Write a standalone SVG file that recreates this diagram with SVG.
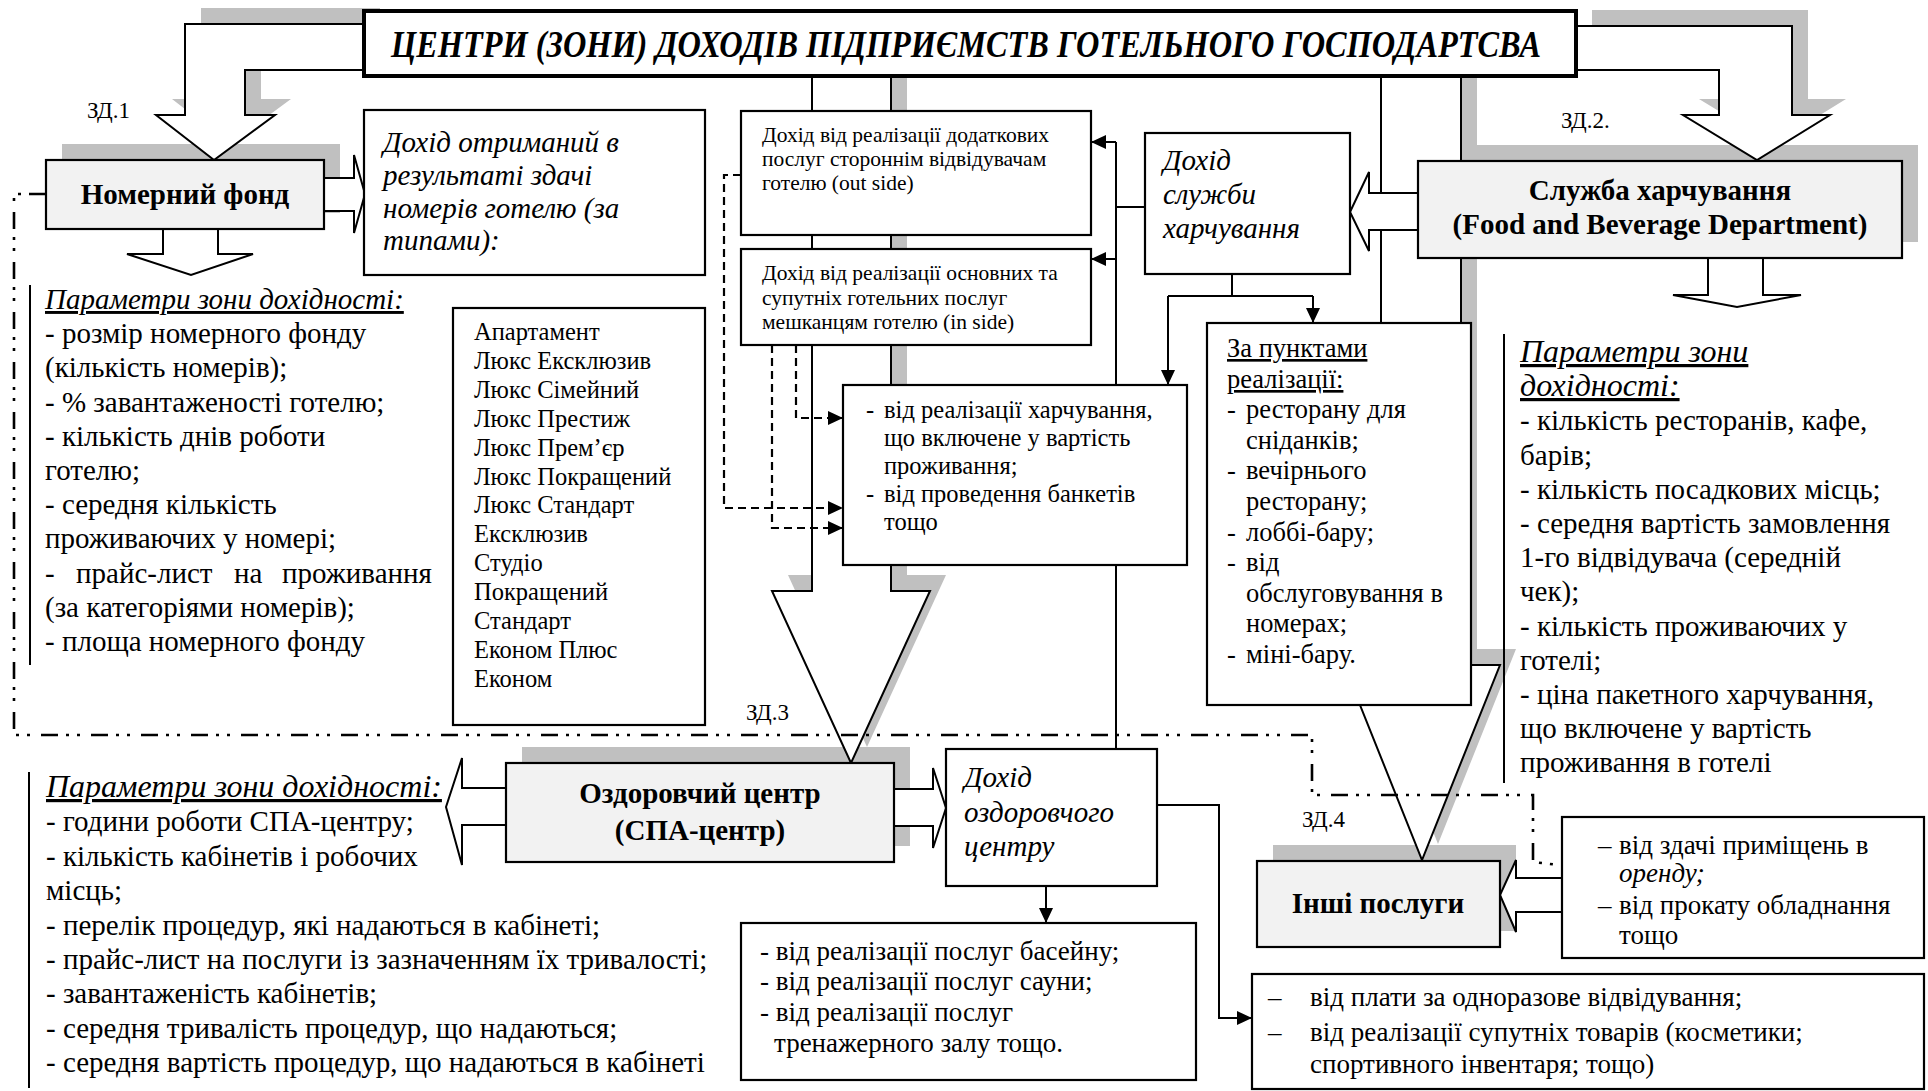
<svg xmlns="http://www.w3.org/2000/svg" xmlns:xlink="http://www.w3.org/1999/xlink" width="1928" height="1091" viewBox="0 0 1928 1091" font-family="Liberation Serif, Times New Roman, serif">
<style>
.bx{fill:#fff;stroke:#000;stroke-width:2.2}
.gb{fill:#f2f2f2;stroke:#000;stroke-width:2.2}
.sh{fill:#c0c0c0;stroke:none}
.ar{fill:#fff;stroke:#000;stroke-width:2;stroke-linejoin:miter}
.ln{fill:none;stroke:#000;stroke-width:2}
.ds{fill:none;stroke:#000;stroke-width:2.2;stroke-dasharray:8 5}
.dd{fill:none;stroke:#000;stroke-width:2.6;stroke-dasharray:17 8 3 8 3 11}
.s21{font-size:21.5px}.s23{font-size:23px}.s24{font-size:24.5px}.s26{font-size:26.5px}.s27{font-size:27px}.s29{font-size:29px}.s32{font-size:32px}
.i{font-style:italic}.b{font-weight:bold}.u{text-decoration:underline}
.c{text-anchor:middle}
</style>
<defs>
<marker id="ah" markerUnits="userSpaceOnUse" markerWidth="16" markerHeight="14" refX="15" refY="7" orient="auto"><path d="M0,0 L15,7 L0,14 z" fill="#000"/></marker>
<polygon id="p1" points="364,24 185,24 185,115 156,115 214,160 275,115 245,115 245,70 364,70"/>
<polygon id="p2" points="1576,26 1792,26 1792,115 1830,115 1757,160 1683,115 1719,115 1719,70 1576,70"/>
<polygon id="p3" points="812,76 812,591 772,591 851,763 930,591 891,591 891,76"/>
<polygon id="p4" points="1381,76 1381,665 1344,665 1422,860 1500,665 1461,665 1461,76"/>
</defs>
<rect width="1928" height="1091" fill="#fff"/>

<g id="shadows">
<use xlink:href="#p1" class="sh" transform="translate(16,-16)"/>
<use xlink:href="#p2" class="sh" transform="translate(16,-16)"/>
<use xlink:href="#p3" class="sh" transform="translate(16,-16)"/>
<use xlink:href="#p4" class="sh" transform="translate(16,-16)"/>
<rect class="sh" x="62" y="144" width="278" height="69"/>
<rect class="sh" x="1434" y="145" width="484" height="97"/>
<rect class="sh" x="522" y="747" width="388" height="99"/>
<rect class="sh" x="1273" y="845" width="243" height="86"/>
</g>

<g id="connectors">
<use xlink:href="#p1" class="ar"/>
<use xlink:href="#p2" class="ar"/>
<use xlink:href="#p3" class="ar"/>
<use xlink:href="#p4" class="ar"/>
<polygon class="ar" points="324,178 354,178 354,155 365,194 354,233 354,211 324,211"/>
<polygon class="ar" points="163,229 163,254 127,254 191,275 253,254 218,254 218,229"/>
<polygon class="ar" points="1418,193 1369,193 1369,172 1350,212 1369,251 1369,230 1418,230"/>
<polygon class="ar" points="1708,258 1708,295 1673,295 1737,307 1801,295 1763,295 1763,258"/>
<polygon class="ar" points="506,788 462,788 462,758 446,807 462,865 462,825 506,825"/>
<polygon class="ar" points="894,789 933,789 933,768 946,808 933,848 933,826 894,826"/>
<polygon class="ar" points="1562,878 1516,878 1516,860 1500,895 1516,932 1516,912 1562,912"/>
<path class="ln" d="M1116,142 V749"/>
<path class="ln" d="M1116,142 H1091" marker-end="url(#ah)"/>
<path class="ln" d="M1116,259 H1091" marker-end="url(#ah)"/>
<path class="ln" d="M1145,207 H1116"/>
<path class="ln" d="M1232,274 V296 M1168,296 H1313"/>
<path class="ln" d="M1168,296 V385" marker-end="url(#ah)"/>
<path class="ln" d="M1313,296 V323" marker-end="url(#ah)"/>
<path class="ds" d="M741,175 H724 V508 H843" marker-end="url(#ah)"/>
<path class="ds" d="M772,345 V528 H843" marker-end="url(#ah)"/>
<path class="ds" d="M796,345 V418 H843" marker-end="url(#ah)"/>
<path class="ln" d="M1046,886 V923" marker-end="url(#ah)"/>
<path class="ln" d="M1157,805 H1219 V1018 H1252" marker-end="url(#ah)"/>
<path class="dd" d="M46,194 H14 V735 H1312 V795 H1533 V862 L1585,868" marker-end="url(#ah)"/>
<path class="ln" d="M30,285 V665 M1504,334 V783 M29,772 V1088"/>
</g>

<g id="title">
<rect x="364" y="11" width="1212" height="65" fill="#fff" stroke="#000" stroke-width="4"/>
<text x="391" y="57" class="b i" font-size="37" textLength="1150" lengthAdjust="spacingAndGlyphs">ЦЕНТРИ (ЗОНИ) ДОХОДІВ ПІДПРИЄМСТВ ГОТЕЛЬНОГО ГОСПОДАРТСВА</text>
</g>

<g id="labels">
<text x="87" y="118" class="s23">ЗД.1</text>
<text x="1561" y="128" class="s23">ЗД.2.</text>
<text x="746" y="720" class="s23">ЗД.3</text>
<text x="1302" y="827" class="s23">ЗД.4</text>
</g>

<g id="nomernyi-fond">
<rect class="gb" x="46" y="160" width="278" height="69"/>
<text x="185" y="204" class="s29 b c">Номерний фонд</text>
</g>

<g id="dohid-nomery">
<rect class="bx" x="364" y="110" width="341" height="165"/>
<text x="383" y="152" class="s29 i">Дохід отриманий в</text>
<text x="383" y="185" class="s29 i">результаті здачі</text>
<text x="383" y="218" class="s29 i">номерів готелю (за</text>
<text x="383" y="250" class="s29 i">типами):</text>
</g>

<g id="params-nomery">
<text x="45" y="309" class="s29 i u">Параметри зони дохідності:</text>
<text x="45" y="343" class="s29">- розмір номерного фонду</text>
<text x="45" y="377" class="s29">(кількість номерів);</text>
<text x="45" y="412" class="s29">- % завантаженості готелю;</text>
<text x="45" y="446" class="s29">- кількість днів роботи</text>
<text x="45" y="480" class="s29">готелю;</text>
<text x="45" y="514" class="s29">- середня кількість</text>
<text x="45" y="548" class="s29">проживаючих у номері;</text>
<text y="583" class="s29"><tspan x="45">-</tspan><tspan x="76">прайс-лист</tspan><tspan x="234">на</tspan><tspan x="282">проживання</tspan></text>
<text x="45" y="617" class="s29">(за категоріями номерів);</text>
<text x="45" y="651" class="s29">- площа номерного фонду</text>
</g>

<g id="room-types">
<rect class="bx" x="453" y="308" width="252" height="417"/>
<text x="474" y="340" class="s24">Апартамент</text>
<text x="474" y="369" class="s24">Люкс Ексклюзив</text>
<text x="474" y="398" class="s24">Люкс Сімейний</text>
<text x="474" y="427" class="s24">Люкс Престиж</text>
<text x="474" y="456" class="s24">Люкс Прем’єр</text>
<text x="474" y="485" class="s24">Люкс Покращений</text>
<text x="474" y="513" class="s24">Люкс Стандарт</text>
<text x="474" y="542" class="s24">Ексклюзив</text>
<text x="474" y="571" class="s24">Студіо</text>
<text x="474" y="600" class="s24">Покращений</text>
<text x="474" y="629" class="s24">Стандарт</text>
<text x="474" y="658" class="s24">Економ Плюс</text>
<text x="474" y="687" class="s24">Економ</text>
</g>

<g id="dohid-outside">
<rect class="bx" x="741" y="111" width="350" height="124"/>
<text x="762" y="142" class="s21">Дохід від реалізації додаткових</text>
<text x="762" y="166" class="s21">послуг стороннім відвідувачам</text>
<text x="762" y="190" class="s21">готелю (out side)</text>
</g>

<g id="dohid-inside">
<rect class="bx" x="741" y="249" width="350" height="96"/>
<text x="762" y="280" class="s21">Дохід від реалізації основних та</text>
<text x="762" y="305" class="s21">супутніх готельних послуг</text>
<text x="762" y="329" class="s21">мешканцям готелю (in side)</text>
</g>

<g id="vid-kharchuvannia">
<rect class="bx" x="843" y="385" width="344" height="180"/>
<text x="866" y="418" class="s24">-</text><text x="884" y="418" class="s24">від реалізації харчування,</text>
<text x="884" y="446" class="s24">що включене у вартість</text>
<text x="884" y="474" class="s24">проживання;</text>
<text x="866" y="502" class="s24">-</text><text x="884" y="502" class="s24">від проведення банкетів</text>
<text x="884" y="530" class="s24">тощо</text>
</g>

<g id="dohid-sluzhby">
<rect class="bx" x="1145" y="133" width="205" height="141"/>
<text x="1163" y="170" class="s29 i">Дохід</text>
<text x="1163" y="204" class="s29 i">служби</text>
<text x="1163" y="238" class="s29 i">харчування</text>
</g>

<g id="sluzhba-kharchuvannia">
<rect class="gb" x="1418" y="161" width="484" height="97"/>
<text x="1660" y="200" class="s29 b c">Служба харчування</text>
<text x="1660" y="234" class="s29 b c">(Food and Beverage Department)</text>
</g>

<g id="punkty">
<rect class="bx" x="1207" y="323" width="264" height="382"/>
<text x="1227" y="357" class="s26 u">За пунктами</text>
<text x="1227" y="388" class="s26 u">реалізації:</text>
<text x="1227" y="418" class="s26">-</text><text x="1246" y="418" class="s26">ресторану для</text>
<text x="1246" y="449" class="s26">сніданків;</text>
<text x="1227" y="479" class="s26">-</text><text x="1246" y="479" class="s26">вечірнього</text>
<text x="1246" y="510" class="s26">ресторану;</text>
<text x="1227" y="541" class="s26">-</text><text x="1246" y="541" class="s26">лоббі-бару;</text>
<text x="1227" y="571" class="s26">-</text><text x="1246" y="571" class="s26">від</text>
<text x="1246" y="602" class="s26">обслуговування в</text>
<text x="1246" y="632" class="s26">номерах;</text>
<text x="1227" y="663" class="s26">-</text><text x="1246" y="663" class="s26">міні-бару.</text>
</g>

<g id="params-kharchuvannia">
<text x="1520" y="362" class="s32 i u">Параметри зони</text>
<text x="1520" y="396" class="s32 i u">дохідності:</text>
<text x="1520" y="430" class="s29">- кількість ресторанів, кафе,</text>
<text x="1520" y="465" class="s29">барів;</text>
<text x="1520" y="499" class="s29">- кількість посадкових місць;</text>
<text x="1520" y="533" class="s29">- середня вартість замовлення</text>
<text x="1520" y="567" class="s29">1-го відвідувача (середній</text>
<text x="1520" y="601" class="s29">чек);</text>
<text x="1520" y="636" class="s29">- кількість проживаючих у</text>
<text x="1520" y="670" class="s29">готелі;</text>
<text x="1520" y="704" class="s29">- ціна пакетного харчування,</text>
<text x="1520" y="738" class="s29">що включене у вартість</text>
<text x="1520" y="772" class="s29">проживання в готелі</text>
</g>

<g id="spa">
<rect class="gb" x="506" y="763" width="388" height="99"/>
<text x="700" y="803" class="s29 b c">Оздоровчий центр</text>
<text x="700" y="840" class="s29 b c">(СПА-центр)</text>
</g>

<g id="params-spa">
<text x="46" y="797" class="s32 i u">Параметри зони дохідності:</text>
<text x="46" y="831" class="s29">- години роботи СПА-центру;</text>
<text x="46" y="866" class="s29">- кількість кабінетів і робочих</text>
<text x="46" y="900" class="s29">місць;</text>
<text x="46" y="935" class="s29">- перелік процедур, які надаються в кабінеті;</text>
<text x="46" y="969" class="s29">- прайс-лист на послуги із зазначенням їх тривалості;</text>
<text x="46" y="1003" class="s29">- завантаженість кабінетів;</text>
<text x="46" y="1038" class="s29">- середня тривалість процедур, що надаються;</text>
<text x="46" y="1072" class="s29">- середня вартість процедур, що надаються в кабінеті</text>
</g>

<g id="dohid-spa">
<rect class="bx" x="946" y="749" width="211" height="137"/>
<text x="964" y="787" class="s29 i">Дохід</text>
<text x="964" y="822" class="s29 i">оздоровчого</text>
<text x="964" y="856" class="s29 i">центру</text>
</g>

<g id="basein">
<rect class="bx" x="741" y="923" width="455" height="157"/>
<text x="760" y="960" class="s27">- від реалізації послуг басейну;</text>
<text x="760" y="990" class="s27">-  від реалізації послуг сауни;</text>
<text x="760" y="1021" class="s27">- від реалізації послуг</text>
<text x="774" y="1052" class="s27">тренажерного залу тощо.</text>
</g>

<g id="inshi-posluhy">
<rect class="gb" x="1257" y="861" width="243" height="86"/>
<text x="1378" y="913" class="s29 b c">Інші послуги</text>
</g>

<g id="orenda">
<rect class="bx" x="1562" y="817" width="362" height="141"/>
<text x="1598" y="854" class="s27">–</text><text x="1619" y="854" class="s27">від здачі приміщень в</text>
<text x="1619" y="882" class="s27 i">оренду;</text>
<text x="1598" y="914" class="s27">–</text><text x="1619" y="914" class="s27">від прокату обладнання</text>
<text x="1619" y="944" class="s27">тощо</text>
</g>

<g id="odnorazove">
<rect class="bx" x="1252" y="974" width="672" height="115"/>
<text x="1268" y="1006" class="s27">–</text><text x="1310" y="1006" class="s27">від плати за одноразове відвідування;</text>
<text x="1268" y="1041" class="s27">–</text><text x="1310" y="1041" class="s27">від реалізації супутніх товарів (косметики;</text>
<text x="1310" y="1073" class="s27">спортивного інвентаря; тощо)</text>
</g>
</svg>
